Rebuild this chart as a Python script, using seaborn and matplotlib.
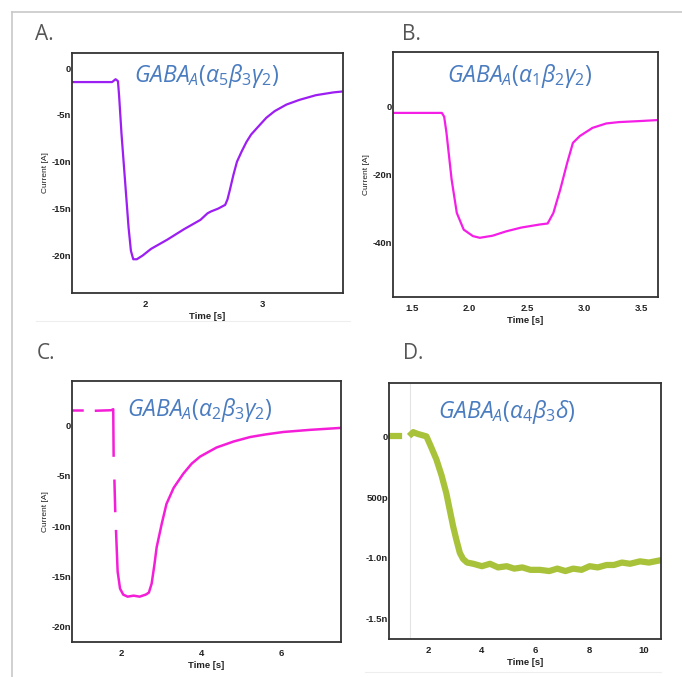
import matplotlib
matplotlib.use("Agg")
import matplotlib.pyplot as plt
from matplotlib.lines import Line2D
import seaborn as sns
import numpy as np
import pandas as pd

# --- panel A: GABAA(a5b3g2), current in nA
t_a = [1.38, 1.55, 1.72, 1.75, 1.77, 1.78, 1.80, 1.83, 1.86, 1.88, 1.90, 1.93, 1.98,
       2.05, 2.19, 2.33, 2.47, 2.53, 2.56, 2.62, 2.68, 2.70, 2.72, 2.75, 2.78, 2.82,
       2.86, 2.90, 2.95, 3.03, 3.10, 3.20, 3.31, 3.45, 3.60, 3.68]
i_a = [-1.5, -1.5, -1.5, -1.2, -1.4, -3.0, -7.0, -12.0, -17.0, -19.5, -20.4, -20.4, -20.0,
       -19.3, -18.3, -17.2, -16.2, -15.5, -15.3, -15.0, -14.6, -14.0, -13.0, -11.4, -10.0,
       -8.9, -7.9, -7.1, -6.4, -5.3, -4.6, -3.9, -3.4, -2.9, -2.6, -2.5]

# --- panel B: GABAA(a1b2g2)
t_b = [1.335, 1.55, 1.76, 1.78, 1.80, 1.845, 1.89, 1.95, 2.03, 2.09, 2.20, 2.32, 2.45,
       2.61, 2.68, 2.73, 2.79, 2.85, 2.90, 2.96, 3.07, 3.19, 3.30, 3.48, 3.64]
i_b = [-1.9, -1.9, -1.9, -3.0, -7.7, -21.5, -31.3, -36.2, -38.1, -38.6, -38.0, -36.7, -35.6,
       -34.7, -34.4, -31.3, -24.4, -16.6, -10.7, -8.7, -6.3, -5.0, -4.6, -4.3, -4.0]

# --- panel C: GABAA(a2b3g2), gaps in the recorded trace kept as separate segments
t_c = [[0.76, 1.00], [1.36, 1.74, 1.79, 1.80], [1.82, 1.84], [1.86, 1.90, 1.96, 2.04, 2.15,
       2.30, 2.45, 2.60, 2.68, 2.75, 2.82, 2.875, 3.0, 3.12, 3.30, 3.54, 3.75, 3.96,
       4.37, 4.80, 5.21, 5.60, 6.04, 6.70, 7.41, 7.48]]
i_c = [[1.5, 1.5], [1.45, 1.5, 1.6, -3.0], [-5.5, -8.5], [-10.5, -14.5, -16.2, -16.8, -17.0,
       -16.9, -17.0, -16.8, -16.6, -15.7, -13.8, -12.1, -9.8, -7.8, -6.2, -4.8, -3.8, -3.1,
       -2.2, -1.6, -1.16, -0.9, -0.66, -0.45, -0.27, -0.25]]

# --- panel D: GABAA(a4b3d), current in nA
t_d = [[0.55, 0.92], [1.38, 1.45, 1.50, 1.62, 1.78, 1.94, 2.10, 2.31, 2.50, 2.68, 2.80,
       2.93, 3.05, 3.18, 3.30, 3.45, 3.68, 4.0, 4.3, 4.6, 4.92, 5.2, 5.5, 5.8, 6.15,
       6.5, 6.8, 7.1, 7.39, 7.7, 8.0, 8.3, 8.63, 8.9, 9.2, 9.5, 9.87, 10.2, 10.65]]
i_d = [[0.0, 0.0], [0.02, 0.035, 0.03, 0.02, 0.01, 0.0, -0.08, -0.19, -0.32, -0.47, -0.60,
       -0.74, -0.85, -0.96, -1.01, -1.04, -1.05, -1.07, -1.05, -1.08, -1.07, -1.09, -1.08,
       -1.10, -1.10, -1.11, -1.09, -1.11, -1.09, -1.10, -1.07, -1.08, -1.06, -1.06, -1.04,
       -1.05, -1.03, -1.04, -1.02]]
d_marker_t = 1.34  # faint vertical marker in panel D

W, H = 682, 677
plt.rcParams['mathtext.fontset'] = 'custom'
plt.rcParams['mathtext.it'] = 'Open Sans:italic'
plt.rcParams['mathtext.rm'] = 'Open Sans'
plt.rcParams['font.family'] = ['Liberation Sans', 'DejaVu Sans']

fig = plt.figure(figsize=(W / 100, H / 100), dpi=100)


def box(x0, y0, x1, y1):
    return [x0 / W, 1 - y1 / H, (x1 - x0) / W, (y1 - y0) / H]


def frame(segs_t, segs_i):
    rows = []
    for k, (ts, vs) in enumerate(zip(segs_t, segs_i)):
        for t, v in zip(ts, vs):
            rows.append((k, t, v))
    return pd.DataFrame(rows, columns=['seg', 'Time', 'Current'])


panels = [
    dict(rect=(72, 53, 343, 293), df=frame([t_a], [i_a]), color='#9c1ef2', lw=1.6,
         xlim=(1.38, 3.68), ylim=(-24, 1.6), xt=[2, 3], xl=['2', '3'],
         yt=[0, -5, -10, -15, -20], yl=['0', '-5n', '-10n', '-15n', '-20n'],
         label='A.', lab_xy=(35, 34), title=r'$GABA_A(\alpha_5\beta_3\gamma_2)$', t_xy=(207, 76)),
    dict(rect=(393, 52, 658, 297), df=frame([t_b], [i_b]), color='#f51ee6', lw=1.6,
         xlim=(1.335, 3.64), ylim=(-56, 16), xt=[1.5, 2.0, 2.5, 3.0, 3.5],
         xl=['1.5', '2.0', '2.5', '3.0', '3.5'],
         yt=[0, -20, -40], yl=['0', '-20n', '-40n'],
         label='B.', lab_xy=(402, 34), title=r'$GABA_A(\alpha_1\beta_2\gamma_2)$', t_xy=(520, 76)),
    dict(rect=(72, 381, 341, 642), df=frame(t_c, i_c), color='#f51ed8', lw=1.8,
         xlim=(0.76, 7.48), ylim=(-21.5, 4.4), xt=[2, 4, 6], xl=['2', '4', '6'],
         yt=[0, -5, -10, -15, -20], yl=['0', '-5n', '-10n', '-15n', '-20n'],
         label='C.', lab_xy=(37, 353), title=r'$GABA_A(\alpha_2\beta_3\gamma_2)$', t_xy=(200, 410)),
    dict(rect=(389, 383, 661, 639), df=frame(t_d, i_d), color='#a8c23a', lw=4.5,
         xlim=(0.55, 10.65), ylim=(-1.67, 0.44), xt=[2, 4, 6, 8, 10],
         xl=['2', '4', '6', '8', '10'],
         yt=[0, -0.5, -1.0, -1.5], yl=['0', '500p', '-1.0n', '-1.5n'],
         label='D.', lab_xy=(403, 353), title=r'$GABA_A(\alpha_4\beta_3\delta)$', t_xy=(507, 412)),
]

for p in panels:
    ax = fig.add_axes(box(*p['rect']))
    if p['label'] == 'D.':
        ax.axvline(d_marker_t, color='#e4e4e4', lw=0.8, zorder=0)
    sns.lineplot(data=p['df'], x='Time', y='Current', units='seg', estimator=None,
                 color=p['color'], linewidth=p['lw'], ax=ax, sort=False)
    ax.set_xlim(*p['xlim'])
    ax.set_ylim(*p['ylim'])
    ax.set_xticks(p['xt'])
    ax.set_xticklabels(p['xl'])
    ax.set_yticks(p['yt'])
    ax.set_yticklabels(p['yl'])
    ax.tick_params(axis='x', length=0, pad=5, labelsize=6.8, colors='#222222')
    ax.tick_params(axis='y', length=0, pad=0.5, labelsize=6.8, colors='#222222')
    for lbl in ax.get_xticklabels() + ax.get_yticklabels():
        lbl.set_fontweight('bold')
    ax.set_xlabel('Time [s]', fontsize=6.8, fontweight='bold', labelpad=2.5, color='#222222')
    if p['label'] != 'D.':
        ax.set_ylabel('Current [A]', fontsize=6, labelpad=2, color='#222222')
    else:
        ax.set_ylabel('')
    for s in ax.spines.values():
        s.set_color('#333333')
        s.set_linewidth(1.3)
    fig.text(p['lab_xy'][0] / W, 1 - p['lab_xy'][1] / H, p['label'], fontsize=15,
             family='Open Sans', color='#555555', va='center', ha='left')
    fig.text(p['t_xy'][0] / W, 1 - p['t_xy'][1] / H, p['title'], fontsize=16.5,
             color='#4a7cc0', ha='center', va='center')

# outer frame and faint separators
fig.add_artist(Line2D([12 / W, 1], [1 - 12 / H] * 2, color='#c8c8c8', lw=1.2))
fig.add_artist(Line2D([12 / W] * 2, [1 - 12 / H, 0], color='#c8c8c8', lw=1.2))
fig.add_artist(Line2D([36 / W, 350 / W], [1 - 321 / H] * 2, color='#eeeeee', lw=0.8, zorder=-1))
fig.add_artist(Line2D([365 / W, 661 / W], [1 - 672 / H] * 2, color='#eeeeee', lw=0.8, zorder=-1))

fig.savefig('out.png', dpi=100)
